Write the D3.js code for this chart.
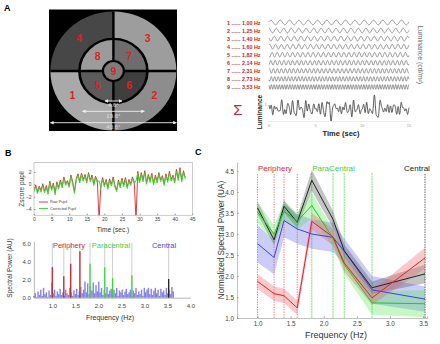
<!DOCTYPE html>
<html><head><meta charset="utf-8">
<script src="https://cdn.jsdelivr.net/npm/d3@7"></script>
<style>body{margin:0;background:#fff} svg{display:block} text{font-family:"Liberation Sans",Arial,sans-serif}</style>
</head><body><svg id="c" width="440" height="344"></svg>
<script>
// ---------- DATA ----------
const freqs = [1.00,1.25,1.40,1.60,1.82,2.14,2.31,2.73,3.53];
const freqLabels = ["1,00","1,25","1,40","1,60","1,82","2,14","2,31","2,73","3,53"];
const phases = [0.3,1.7,2.9,0.8,4.1,5.2,1.1,3.6,2.2];
const periphF = [1.00,1.25,1.40,1.60];
const paraF = [1.82,2.14,2.31,2.73];
const centralF = [3.53];
const sectorNums = {outer:[3,2,1,4], middle:[7,6,5,8], center:[9]};
const degLabels = ["4.6°","19.6°","40.6°"];

// Panel B top: pupil z-score, 0.5 s steps from 0 to 43 s
const pupilStep = 0.5;
const correctedPupil = [-1.2,-0.4,-1.5,-0.6,-1.3,-0.2,-1.4,-0.5,-1.6,0.2,
 -1.0,-0.1,-1.7,0.1,-0.8,0.4,-0.6,0.9,-0.2,0.3,
 -0.5,1.2,0.1,-1.5,0.6,1.4,0.2,1.5,0.5,1.3,
 0.2,1.6,0.4,1.2,-0.2,1.0,0.3,0.6,-0.6,0.8,
 -0.4,0.5,-0.8,0.6,-0.3,0.9,-0.5,-1.2,0.4,-0.6,
 0.7,-0.4,0.8,-0.7,0.5,-0.2,0.9,0.1,0.6,1.8,
 0.2,1.6,0.4,1.9,0.0,1.3,0.3,1.5,-0.1,1.2,
 0.2,1.6,0.4,1.1,-0.2,1.4,0.3,1.8,0.5,1.2,
 0.2,2.1,0.6,2.4,0.4,1.9,0.8];
const rawPupil = [-0.9,-0.1,-1.2,-0.3,-1.0,0.1,-1.1,-0.2,-1.3,0.5,
 -0.7,0.2,-1.4,0.4,-0.5,0.7,-0.3,1.2,0.1,0.6,
 -0.2,1.5,0.4,-1.2,0.9,1.7,0.5,1.8,0.8,1.6,
 0.5,1.9,0.7,1.5,0.1,1.3,0.6,-5.8,-0.3,1.1,
 -0.1,0.8,-0.5,0.9,0.0,1.2,-0.2,-0.9,0.7,-0.3,
 1.0,-0.1,1.1,-0.4,0.8,0.1,1.2,0.4,-5.8,2.1,
 0.5,1.9,0.7,2.2,0.3,1.6,0.6,1.8,0.2,1.5,
 0.5,1.9,0.7,1.4,0.1,1.7,0.6,2.1,0.8,1.5,
 0.5,2.4,0.9,2.7,0.7,2.2,1.1];

// Panel B bottom: spectrum noise, 0.03 Hz steps from 0.6 Hz
const specStart = 0.6, specStep = 0.03;
const specNoise = [0.2,0.5,0.1,0.7,0.3,0.9,0.2,1.1,0.4,0.6,
 0.1,0.8,0.3,1.7,0.5,0.9,0.2,0.7,0.4,1.0,
 0.3,0.6,0.2,0.9,0.5,0.3,1.1,0.6,0.2,0.8,
 0.4,1.0,0.3,0.7,1.2,0.5,0.9,1.8,0.6,1.6,
 0.4,1.3,0.8,1.7,0.5,1.4,0.7,1.8,0.6,1.1,
 0.3,0.9,0.5,1.2,0.4,0.8,1.0,0.3,0.9,0.5,
 1.1,0.2,0.8,0.6,0.9,0.3,0.7,1.0,0.4,0.6,
 0.9,0.2,0.8,0.5,1.1,0.3,0.7,0.4,0.9,0.2,
 1.1,0.6,0.9,1.1,0.4,1.0,0.3,0.8,1.1,0.5,
 0.9,0.2,1.0,0.6,0.8,0.3,1.1,0.5,0.9,0.4,
 1.2,0.7];
const periphPeaks = [3.4,2.4,3.8,5.2];
const paraPeaks = [3.8,3.4,2.2,2.5];
const centralPeaks = [2.1];

// Panel C: normalized spectral power per group, mean and error
const redMean   = [1.87,1.58,1.53,1.24,3.30,2.93,2.31,1.48,2.43];
const redErr    = [0.18,0.17,0.17,0.17,0.20,0.20,0.20,0.17,0.25];
const greenMean = [3.52,3.00,3.54,3.30,3.68,2.90,2.27,1.36,1.34];
const greenErr  = [0.25,0.20,0.22,0.20,0.30,0.20,0.22,0.28,0.32];
const blackMean = [3.62,2.86,3.66,3.28,4.28,3.35,2.60,1.72,2.05];
const blackErr  = [0.15,0.12,0.15,0.14,0.25,0.20,0.15,0.15,0.22];
const blueMean  = [2.77,2.44,3.32,3.12,3.00,2.92,2.59,1.67,1.45];
const blueErr   = [0.45,0.40,0.40,0.35,0.35,0.35,0.30,0.33,0.30];
const cXTicks = [1,1.5,2,2.5,3,3.5];
const cYTicks = [1,1.5,2,2.5,3,3.5,4,4.5];

// ---------- DRAW ----------
const svg = d3.select("#c");
svg.append("rect").attr("width",440).attr("height",344).attr("fill","#fff");

function panelLetter(t,x,y){svg.append("text").attr("x",x).attr("y",y).attr("font-size",9).attr("font-weight","bold").text(t);}
panelLetter("A",4,11); panelLetter("B",5,156); panelLetter("C",195,155);

// ---- Panel A left: stimulus ----
(function(){
  const cx=113.4, cy=71, rx=63, ry=59.5;
  svg.append("rect").attr("x",49).attr("y",9.5).attr("width",128).attr("height",121.5).attr("fill","#000");
  const g = svg.append("g").attr("transform",`translate(${cx},${cy}) scale(1,${ry/rx})`);
  const shade = {1:"#a9a9a9",2:"#8d8d8d",3:"#9d9d9d",4:"#474747",5:"#5b5b5b",6:"#3f3f3f",7:"#6d6d6d",8:"#9b9b9b",9:"#7d7d7d"};
  const rings = {outer:[34,63], middle:[10.5,34], center:[0,10.5]};
  const segs=[];
  ["outer","middle"].forEach(k=>sectorNums[k].forEach((n,i)=>segs.push({n, ring:k, q:i, r0:rings[k][0], r1:rings[k][1], a0:i*Math.PI/2, a1:(i+1)*Math.PI/2})));
  segs.push({n:9,ring:"center",q:0,r0:0,r1:10.5,a0:0,a1:2*Math.PI});
  const arc = d3.arc();
  g.selectAll("path.seg").data(segs).join("path")
    .attr("d",d=>arc({innerRadius:d.r0,outerRadius:d.r1,startAngle:d.a0,endAngle:d.a1}))
    .attr("fill",d=>shade[d.n]);
  g.append("line").attr("x1",-63).attr("x2",63).attr("y1",0).attr("y2",0).attr("stroke","#000").attr("stroke-width",2.4);
  g.append("line").attr("x1",0).attr("x2",0).attr("y1",-63).attr("y2",63).attr("stroke","#000").attr("stroke-width",2.4);
  g.append("circle").attr("r",34).attr("fill","none").attr("stroke","#000").attr("stroke-width",2.6);
  g.append("circle").attr("r",10.5).attr("fill","#7d7d7d").attr("stroke","#000").attr("stroke-width",2.2);
  // labels: outer bottom quadrants sit closer to the horizontal
  const lab = segs.map(d=>{
    let frac = 0.5;
    if(d.ring==="outer" && d.q===1) frac = 0.36;
    if(d.ring==="outer" && d.q===2) frac = 0.64;
    const a=d.a0+(d.a1-d.a0)*frac, r=d.ring==="center"?0:(d.r0+d.r1)/2;
    return {n:d.n, x:cx+r*Math.sin(a), y:cy-r*Math.cos(a)*ry/rx};});
  svg.selectAll("text.num").data(lab).join("text").attr("class","num")
    .attr("x",d=>d.x).attr("y",d=>d.y+3.6).attr("text-anchor","middle")
    .attr("font-size",10.5).attr("font-weight","bold").attr("fill","#e02020").text(d=>d.n);
  // measurement arrows
  const defs = svg.append("defs");
  defs.append("marker").attr("id","ah").attr("viewBox","0 0 10 10").attr("refX",9).attr("refY",5)
    .attr("markerWidth",4).attr("markerHeight",4).attr("orient","auto-start-reverse")
    .append("path").attr("d","M0,0L10,5L0,10z").attr("fill","#eee");
  const meas = [{r:8.5,y:101},{r:31,y:111.3},{r:63,y:122.7}];
  meas.forEach((m,i)=>{
    svg.append("line").attr("x1",cx-m.r).attr("x2",cx+m.r).attr("y1",m.y).attr("y2",m.y)
      .attr("stroke","#eee").attr("stroke-width",0.9).attr("marker-start","url(#ah)").attr("marker-end","url(#ah)");
    svg.append("text").attr("x",cx).attr("y",m.y+6.2).attr("text-anchor","middle").attr("font-size",6)
      .attr("fill","#ddd").text(degLabels[i]);
  });
})();

// ---- Panel A right: sinusoids ----
(function(){
  const xs = d3.scaleLinear().domain([0,15]).range([269,409]);
  const ts = d3.range(0,15.001,0.02);
  const rowY = d3.scaleLinear().domain([0,8]).range([22.5,87]);
  freqs.forEach((f,i)=>{
    const y0=rowY(i);
    svg.append("text").attr("x",227).attr("y",y0+2).attr("font-size",5.4).attr("font-weight","bold")
      .attr("fill","#c0282d").text(`${i+1} ...... ${freqLabels[i]} Hz`);
    svg.append("path").attr("d",d3.line().x(t=>xs(t)).y(t=>y0-2.3*Math.sin(2*Math.PI*f*t+phases[i]))(ts))
      .attr("fill","none").attr("stroke","#6a6a6a").attr("stroke-width",0.7);
  });
  svg.append("text").attr("transform","translate(418,55) rotate(90)").attr("text-anchor","middle")
    .attr("font-size",7).attr("fill","#666").text("Luminance  (cd/m²)");
  svg.append("text").attr("x",238).attr("y",115).attr("text-anchor","middle").attr("font-size",15)
    .attr("fill","#c0282d").text("Σ");
  const sum = ts.map(t=>d3.sum(freqs,(f,i)=>Math.sin(2*Math.PI*f*t+phases[i])));
  const ys = d3.scaleLinear().domain(d3.extent(sum)).range([121,95]);
  svg.append("line").attr("x1",268).attr("x2",410).attr("y1",121.5).attr("y2",121.5).attr("stroke","#ddd").attr("stroke-width",0.5);
  svg.append("path").attr("d",d3.line().x((t)=>xs(t)).y((t,i)=>ys(sum[i]))(ts))
    .attr("fill","none").attr("stroke","#333").attr("stroke-width",0.8);
  [0,5,10,15].forEach(v=>svg.append("text").attr("x",xs(v)).attr("y",126.5).attr("text-anchor","middle")
    .attr("font-size",4).attr("fill","#999").text(v));
  svg.append("text").attr("x",264.5).attr("y",106).attr("font-size",4).attr("fill","#999").text("1");
  svg.append("text").attr("x",341).attr("y",135.5).attr("text-anchor","middle").attr("font-size",7.5)
    .attr("font-weight","bold").attr("fill","#222").text("Time (sec)");
  svg.append("text").attr("transform","translate(261.5,112) rotate(-90)").attr("text-anchor","middle")
    .attr("font-size",6.5).attr("font-weight","bold").attr("fill","#222").text("Luminance");
})();

// ---- Panel B top: pupil ----
(function(){
  const x = d3.scaleLinear().domain([0,45]).range([34,192.3]);
  const y = d3.scaleLinear().domain([-5,3.5]).range([215.2,162.7]);
  svg.append("defs").append("clipPath").attr("id","cpB").append("rect")
    .attr("x",34).attr("y",162.7).attr("width",158.3).attr("height",52.5);
  const line = d3.line().x((d,i)=>x(i*pupilStep)).y(d=>y(d));
  svg.append("path").attr("d",line(rawPupil)).attr("clip-path","url(#cpB)").attr("fill","none").attr("stroke","#d42a2a").attr("stroke-width",0.9);
  svg.append("path").attr("d",line(correctedPupil)).attr("clip-path","url(#cpB)").attr("fill","none").attr("stroke","#2fd82f").attr("stroke-width",0.9);
  svg.append("rect").attr("x",34).attr("y",162.7).attr("width",158.3).attr("height",52.5).attr("fill","none").attr("stroke","#999").attr("stroke-width",0.5);
  const ax = svg.append("g").attr("transform","translate(0,215.2)").call(d3.axisBottom(x).tickValues(d3.range(0,46,5)).tickSize(-1.5).tickPadding(2.5));
  const ay = svg.append("g").attr("transform","translate(34,0)").call(d3.axisLeft(y).tickValues([-4,-2,0,2]).tickSize(-1.5).tickPadding(2.5));
  [ax,ay].forEach(a=>{a.select(".domain").remove(); a.selectAll("line").attr("stroke","#999"); a.selectAll("text").attr("font-size",5).attr("fill","#444").attr("font-family","Liberation Sans");});
  svg.append("text").attr("x",113).attr("y",231.5).attr("text-anchor","middle").attr("font-size",6.5).attr("fill","#333").text("Time (sec.)");
  svg.append("text").attr("transform","translate(24,189) rotate(-90)").attr("text-anchor","middle").attr("font-size",6.5).attr("fill","#333").text("Zscore pupil");
  const lg=[{c:"#d42a2a",t:"Raw Pupil",y:202},{c:"#2fd82f",t:"Corrected Pupil",y:208.5}];
  lg.forEach(l=>{svg.append("line").attr("x1",39).attr("x2",48).attr("y1",l.y).attr("y2",l.y).attr("stroke",l.c).attr("stroke-width",0.9);
    svg.append("text").attr("x",50).attr("y",l.y+1.3).attr("font-size",3.8).attr("fill","#444").text(l.t);});
})();

// ---- Panel B bottom: spectrum ----
(function(){
  const x = d3.scaleLinear().domain([0.6,4.0]).range([33.9,190.3]);
  const y = d3.scaleLinear().domain([0,6.3]).range([297.7,241.3]);
  svg.selectAll("rect.noise").data(specNoise).join("rect").attr("class","noise")
    .attr("x",(d,i)=>x(specStart+i*specStep)-0.7).attr("width",1.4)
    .attr("y",d=>y(d)).attr("height",d=>y(0)-y(d)).attr("fill","#6f6fe0").attr("opacity",0.85);
  const refs = [...periphF,...paraF,...centralF];
  svg.selectAll("line.ref").data(refs).join("line").attr("x1",d=>x(d)).attr("x2",d=>x(d))
    .attr("y1",y(0)).attr("y2",y(6.15)).attr("stroke","#b8b8b8").attr("stroke-width",0.7);
  const peaks = [...periphF.map((f,i)=>({f,v:periphPeaks[i],c:"#cc2230"})),
    ...paraF.map((f,i)=>({f,v:paraPeaks[i],c:"#38d838"})),
    ...centralF.map((f,i)=>({f,v:centralPeaks[i],c:"#222"}))];
  svg.selectAll("line.pk").data(peaks).join("line").attr("x1",d=>x(d.f)).attr("x2",d=>x(d.f))
    .attr("y1",y(0)).attr("y2",d=>y(d.v)).attr("stroke",d=>d.c).attr("stroke-width",1.3);
  const ax = svg.append("g").attr("transform","translate(0,297.7)").call(d3.axisBottom(x).tickValues([1,1.5,2,2.5,3,3.5,4]).tickSize(0).tickPadding(6));
  const ay = svg.append("g").attr("transform","translate(33.9,0)").call(d3.axisLeft(y).tickValues([0,2,4,6]).tickSize(0).tickPadding(3));
  [ax,ay].forEach(a=>{a.select(".domain").attr("stroke","#888").attr("stroke-width",0.6); a.selectAll("text").attr("font-size",6).attr("fill","#444").attr("font-family","Liberation Sans");});
  svg.append("text").attr("x",110).attr("y",320).attr("text-anchor","middle").attr("font-size",7).attr("fill","#333").text("Frequency (Hz)");
  svg.append("text").attr("transform","translate(12,268) rotate(-90)").attr("text-anchor","middle").attr("font-size",6.5).attr("fill","#333").text("Spectral Power (AU)");
  [{t:"Periphery",x:69,c:"#d52a35"},{t:"Paracentral",x:111,c:"#3cd43c"},{t:"Central",x:164,c:"#4848d8"}].forEach(l=>
    svg.append("text").attr("x",l.x).attr("y",247.5).attr("text-anchor","middle").attr("font-size",7.5).attr("fill",l.c).text(l.t));
})();

// ---- Panel C ----
(function(){
  const x = d3.scaleLinear().domain([0.69,3.56]).range([237,427]);
  const y = d3.scaleLinear().domain([1,4.7]).range([318,162.6]);
  const vl = [...periphF.map(f=>({f,c:"#f07a7a",d:"1.5,1"})),...paraF.map(f=>({f,c:"#6fe06f",d:"2,0.6"})),...centralF.map(f=>({f,c:"#555",d:"1.5,1"}))];
  svg.selectAll("line.vl").data(vl).join("line").attr("x1",d=>x(d.f)).attr("x2",d=>x(d.f))
    .attr("y1",y(1)).attr("y2",173).attr("stroke",d=>d.c).attr("stroke-width",0.9).attr("stroke-dasharray",d=>d.d);
  const series = [
    {m:blueMean,e:blueErr,c:"#3a44d8",b:"rgba(95,95,235,0.32)"},
    {m:blackMean,e:blackErr,c:"#222",b:"rgba(60,60,60,0.30)"},
    {m:greenMean,e:greenErr,c:"#22c822",b:"rgba(70,230,70,0.30)"},
    {m:redMean,e:redErr,c:"#e0222a",b:"rgba(240,90,90,0.32)"}];
  series.forEach(s=>{
    svg.append("path").attr("d",d3.area().x((d,i)=>x(freqs[i])).y0((d,i)=>y(d-s.e[i])).y1((d,i)=>y(d+s.e[i]))(s.m)).attr("fill",s.b);
  });
  series.forEach(s=>{
    svg.append("path").attr("d",d3.line().x((d,i)=>x(freqs[i])).y(d=>y(d))(s.m)).attr("fill","none").attr("stroke",s.c).attr("stroke-width",1);
  });
  const ax = svg.append("g").attr("transform","translate(0,318)").call(d3.axisBottom(x).tickValues(cXTicks).tickSize(-1.5).tickPadding(4));
  const ay = svg.append("g").attr("transform","translate(237,0)").call(d3.axisLeft(y).tickValues(cYTicks).tickSize(-1.5).tickPadding(3));
  [ax,ay].forEach(a=>{a.select(".domain").attr("stroke","#999").attr("stroke-width",0.6); a.selectAll("line").attr("stroke","#999"); a.selectAll("text").attr("font-size",6.3).attr("fill","#444").attr("font-family","Liberation Sans");});
  svg.append("text").attr("x",336).attr("y",338).attr("text-anchor","middle").attr("font-size",9).attr("fill","#333").text("Frequency (Hz)");
  svg.append("text").attr("transform","translate(224,240) rotate(-90)").attr("text-anchor","middle").attr("font-size",8.2).attr("fill","#333").text("Normalized Spectral Power (UA)");
  [{t:"Periphery",x:275,c:"#e0283a"},{t:"ParaCentral",x:333.5,c:"#3ad43a"},{t:"Central",x:417,c:"#222"}].forEach(l=>
    svg.append("text").attr("x",l.x).attr("y",170.5).attr("text-anchor","middle").attr("font-size",8).attr("fill",l.c).text(l.t));
})();
</script></body></html>
